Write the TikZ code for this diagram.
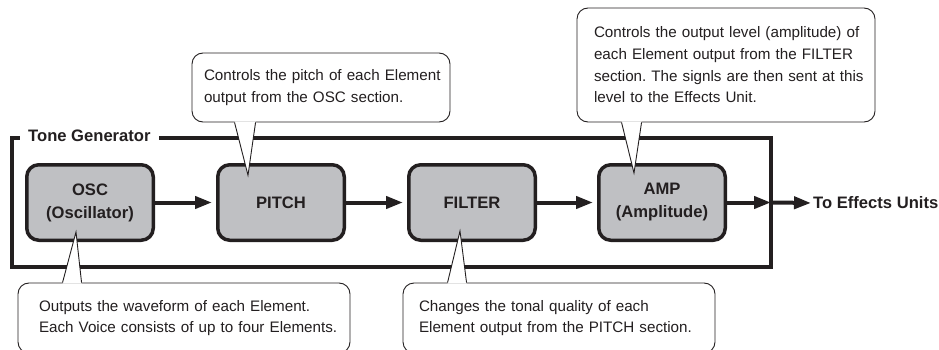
\documentclass[tikz,border=0pt]{standalone}
\usepackage{fontspec}
\setmainfont{Liberation Sans}
\usetikzlibrary{arrows.meta}
\definecolor{boxgray}{RGB}{191,192,195}
\definecolor{ink}{RGB}{35,31,32}
\newcommand{\oneline}[1]{\mbox{#1}}
\begin{document}
\begin{tikzpicture}[x=1pt,y=-1pt,
  frame/.style={draw=ink, line width=4pt, inner sep=0pt},
  block/.style={draw=ink, line width=3.5pt, fill=boxgray, rounded corners=12pt,
    minimum width=126.5pt, minimum height=75.5pt, align=center, inner sep=0pt,
    text=ink, font=\fontsize{16.6}{23}\selectfont\bfseries},
  boldlabel/.style={text=ink, font=\fontsize{16.6}{20}\selectfont\bfseries},
  flow/.style={draw=ink, line width=4pt, -{Triangle[length=17pt,width=12pt]}},
  callout/.style={draw=ink, line width=0.9pt, fill=white, rounded corners=11pt,
    align=left, inner ysep=0pt, text=ink},
  topfont/.style={font=\fontsize{15.2}{21.7}\selectfont\frenchspacing},
  botfont/.style={font=\fontsize{15.2}{20.5}\selectfont\frenchspacing},
  ptrline/.style={draw=ink, line width=0.9pt, line join=miter}]
\useasboundingbox (0,0) rectangle (939,350);
\clip (0,0) rectangle (939,350);

% frame
\node[frame, minimum width=759pt, minimum height=129.5pt] (tg) at (391.5,202.25) {};
\node[boldlabel, fill=white, anchor=west, inner xsep=8pt, inner ysep=2pt]
  (tglabel) at ([xshift=10pt]tg.north west) {Tone Generator};

% blocks
\node[block] (osc) at (90,202.5) {OSC\\(Oscillator)};
\node[block] (pitch) at (281,202.5) {PITCH};
\node[block] (filter) at (472,202.5) {FILTER};
\node[block] (amp) at (662,202.5) {AMP\\(Amplitude)};

% output label
\node[boldlabel, anchor=west, inner sep=0pt] (out) at (813,203) {To Effects Units};

% arrows
\draw[flow, shorten >=4pt] (osc.east) -- (pitch.west);
\draw[flow, shorten >=4pt] (pitch.east) -- (filter.west);
\draw[flow, shorten >=4pt] (filter.east) -- (amp.west);
\coordinate (exit) at (amp.east -| tg.east);
\draw[flow, shorten >=2pt] (amp.east) -- (exit);
\draw[flow, shorten >=2pt] (exit) -- (out.west);

% callouts
\node[callout, topfont, text width=234pt, inner xsep=12pt, minimum height=69pt]
  (pc) at (321,87.5) {\oneline{Controls the pitch of each Element}\\\oneline{output from the OSC section.}};
\node[callout, topfont, text width=264pt, inner xsep=17pt, minimum height=114pt]
  (ac) at (726,65) {\oneline{Controls the output level (amplitude) of}\\\oneline{each Element output from the FILTER}\\\oneline{section. The signls are then sent at this}\\\oneline{level to the Effects Unit.}};
\node[callout, botfont, text width=290pt, inner xsep=21pt, minimum height=70pt]
  (oc) at (184,318) {\oneline{Outputs the waveform of each Element.}\\\oneline{Each Voice consists of up to four Elements.}};
\node[callout, botfont, text width=280pt, inner xsep=16pt, minimum height=70pt]
  (fc) at (559,318) {\oneline{Changes the tonal quality of each}\\\oneline{Element output from the PITCH section.}};

% pointers
\coordinate (pctip) at ([xshift=-33pt,yshift=-12.25pt]pitch.north);
\coordinate (actip) at ([xshift=-28pt,yshift=-10pt]amp.north);
\coordinate (octip) at ([xshift=-14pt,yshift=10pt]osc.south);
\coordinate (fctip) at ([xshift=-12pt,yshift=11pt]filter.south);

\fill[white] ([xshift=43pt,yshift=1pt]pc.south west) -- (pctip) -- ([xshift=64pt,yshift=1pt]pc.south west) -- cycle;
\draw[ptrline] ([xshift=43pt]pc.south west) -- (pctip) -- ([xshift=64pt]pc.south west);

\fill[white] ([xshift=45pt,yshift=1pt]ac.south west) -- (actip) -- ([xshift=65pt,yshift=1pt]ac.south west) -- cycle;
\draw[ptrline] ([xshift=45pt]ac.south west) -- (actip) -- ([xshift=65pt]ac.south west);

\fill[white] ([xshift=45pt,yshift=-1pt]oc.north west) -- (octip) -- ([xshift=64pt,yshift=-1pt]oc.north west) -- cycle;
\draw[ptrline] ([xshift=45pt]oc.north west) -- (octip) -- ([xshift=64pt]oc.north west);

\fill[white] ([xshift=45pt,yshift=-1pt]fc.north west) -- (fctip) -- ([xshift=64pt,yshift=-1pt]fc.north west) -- cycle;
\draw[ptrline] ([xshift=45pt]fc.north west) -- (fctip) -- ([xshift=64pt]fc.north west);
\end{tikzpicture}
\end{document}
